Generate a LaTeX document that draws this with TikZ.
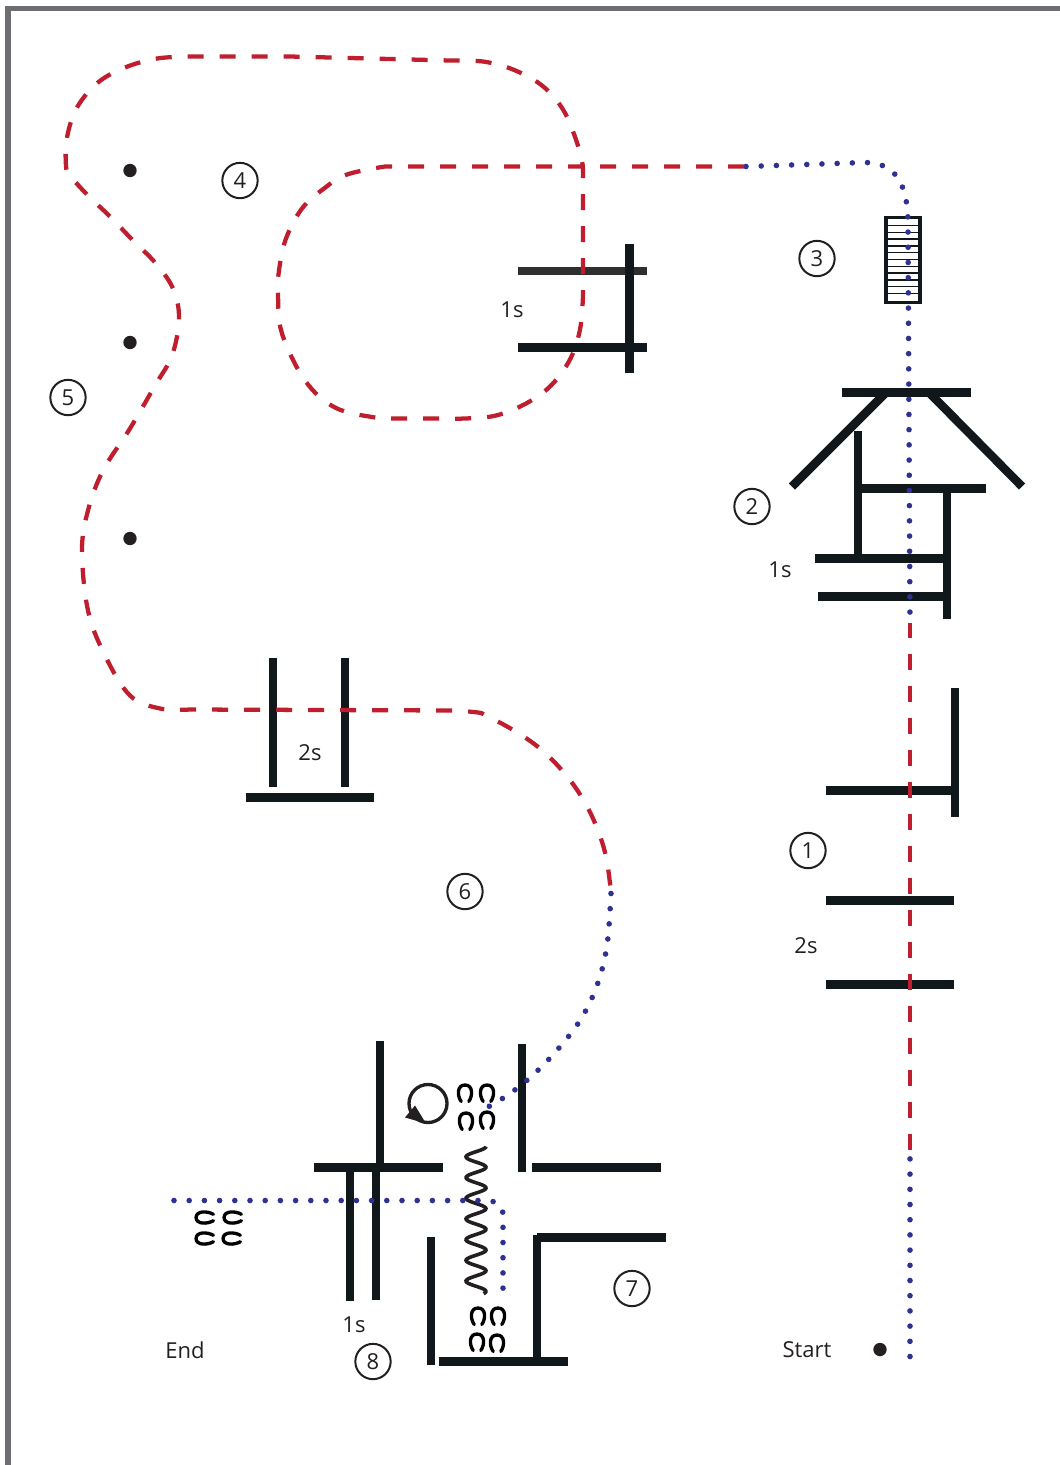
\documentclass[tikz,border=0pt]{standalone}
\usepackage{fontspec}
\setmainfont{Open Sans}
\definecolor{ink}{HTML}{11181C}
\definecolor{txt}{HTML}{231F20}
\definecolor{rd}{HTML}{BE1E2D}
\definecolor{bl}{HTML}{2E3192}
\definecolor{fr}{HTML}{6D6E71}
\definecolor{greybar}{HTML}{2F2F2F}
\tikzset{
  bar/.style={line width=6.4pt,draw=ink},
  reddash/.style={draw=rd,line width=3.2pt,dash pattern=on 12pt off 12pt},
  bluedot/.style={draw=bl,line width=4.2pt,line cap=round,dash pattern=on 0pt off 11.4pt},
  num/.style={circle,draw=txt,line width=1.5pt,minimum size=26.5pt,inner sep=0pt,font=\fontsize{16.5}{18}\selectfont,text=txt},
  lab/.style={inner sep=0pt,font=\fontsize{16.5}{18}\selectfont,text=txt},
  blob/.style={circle,fill=txt,minimum size=10pt,inner sep=0pt},
  shoe/.style={draw=black,line width=2.5pt,line cap=round}
}
\newcommand{\shoeat}[3][]{\draw[shoe,shift={(#2,#3)},#1] (-3.8,8) .. controls (-8,2) and (-8,-8.5) .. (0,-8.5) .. controls (8,-8.5) and (8,2) .. (3.8,8);}
\begin{document}
\begin{tikzpicture}[x=0.75pt,y=-0.75pt]
\useasboundingbox (0,-0.5) rectangle (1060,1464.5);
% frame
\draw[fr,line width=3.8pt] (8,1465) -- (8,8) -- (1060,8);
% jump 1
\draw[bar] (826,790) -- (955,790);
\draw[bar] (955,687) -- (955,816);
\draw[bar] (826,900) -- (954,900);
\draw[bar] (826,984) -- (954,984);
% jump 2
\draw[bar] (842,392) -- (971,392);
\draw[bar] (885,393) -- (792,486);
\draw[bar] (930,393) -- (1022,486);
\draw[bar] (858,430) -- (858,558);
\draw[bar] (858,488) -- (986,488);
\draw[bar] (947,490) -- (947,618);
\draw[bar] (815,558) -- (945,558);
\draw[bar] (818,596) -- (947,596);
% jump near 4
\draw[bar,draw=greybar] (518,270.5) -- (647,270.5);
\draw[bar] (518,347) -- (647,347);
\draw[bar] (629.5,243) -- (629.5,372);
% 2s jump
\draw[bar] (273,657) -- (273,786);
\draw[bar] (345,657) -- (345,786);
\draw[bar] (246,797) -- (374,797);
% bottom left jump
\draw[bar] (380,1040) -- (380,1168);
\draw[bar] (314,1167) -- (443,1167);
\draw[bar] (350,1170) -- (350,1300);
\draw[bar] (376,1170) -- (376,1299);
% bottom right jump
\draw[bar] (522,1043) -- (522,1171);
\draw[bar] (532,1167) -- (661,1167);
\draw[bar] (537,1237) -- (666,1237);
\draw[bar] (537,1234) -- (537,1362);
\draw[bar] (431,1236) -- (431,1364);
\draw[bar] (439,1361) -- (568,1361);
% tunnel
\draw[draw=ink,line width=2.6pt] (886,217) rectangle (920,302);
\foreach \k in {0,...,10}{\draw[draw=ink,line width=1pt] (886,225+6.8*\k) -- (920,225+6.8*\k);}
% spring
\draw[draw=txt,line width=2.7pt,smooth] plot[domain=0:2560,samples=160] ({476+10*cos(\x)},{1146+\x/360*20.7});
% horseshoes
\shoeat{465}{1093}\shoeat{487}{1093}\shoeat{466}{1121}\shoeat{487}{1120}
\shoeat{478}{1316}\shoeat{498}{1316}\shoeat{477}{1342}\shoeat{497}{1343}
\shoeat[rotate=90,xscale=0.85,yscale=1.05]{205}{1217}\shoeat[rotate=90,xscale=0.85,yscale=1.05]{233}{1217}
\shoeat[rotate=90,xscale=0.85,yscale=1.05]{205}{1238}\shoeat[rotate=90,xscale=0.85,yscale=1.05]{232}{1238}
% spin
\draw[draw=txt,line width=2.5pt] (428,1103) circle[radius=19];
\fill[txt] (405,1117) -- (415,1105) -- (426,1123) -- cycle;
% dots
\node[blob] (d1) at (130,170) {};
\node[blob] (d2) at (130,342) {};
\node[blob] (d3) at (130,538) {};
\node[blob] (d4) at (880,1349) {};
% course
\coordinate (startpt) at (910,1356);
\coordinate (endpt) at (174,1200);
\draw[bluedot] (startpt) -- (910,1152);
\draw[reddash] (910,1149) -- (910,622);
\draw[bluedot] (746,166) -- (865,162) .. controls (900,162) and (908,190) .. (908,225) -- (910,622);
\draw[reddash] (744,166) -- (385,166) -- plot[smooth,tension=0.6] coordinates {(385,166)(347,174)(324,188)(302,208)(286,238)(279,270)(278,295)(282,333)(305,380)(335,407)(375,417)(395,418)(430,418)(465,418)(496,415)(526,403)(551,385)(570,359)(580,329)(583,295)} -- (583,166) -- plot[smooth,tension=0.6] coordinates {(583,166)(577,142)(563,109)(542,85)(513,69)(483,61)(450,60)} -- (290,56) -- plot[smooth,tension=0.6] coordinates {(190,56)(157,58)(125,67)(98,82)(77,107)(67,137)(66,165)(70,175)(88,195)(110,216)(133,240)(155,262)(173,288)(179,318)(172,355)(155,385)(130,428)(103,470)(88,510)(82,550)(88,610)(105,655)(130,695)(160,708)(190,709)} -- (455,710) -- plot[smooth,tension=0.6] coordinates {(455,710)(478,712)(486,715)(514,730)(540,748)(563,771)(582,797)(596,825)(606,856)(611,892)};
\draw[bluedot] plot[smooth,tension=0.6] coordinates {(611,893)(607,945)(597,985)(580,1020)(555,1052)(529,1078)(504,1097)(478,1112)};
\draw[bluedot] (endpt) -- (485,1200) .. controls (497,1200) and (503,1205) .. (503,1215) -- (503,1290);
% numbers
\node[num] (n1) at (808,850) {1};
\node[num] (n2) at (752,506) {2};
\node[num] (n3) at (817,258) {3};
\node[num] (n4) at (240,180) {4};
\node[num] (n5) at (68,397) {5};
\node[num] (n6) at (465,891) {6};
\node[num] (n7) at (632,1288) {7};
\node[num] (n8) at (373,1361) {8};
% labels
\node[lab] (l1) at (512,309.5) {1s};
\node[lab] (l2) at (780,569.5) {1s};
\node[lab] (l3) at (310,752.5) {2s};
\node[lab] (l4) at (806,945.5) {2s};
\node[lab] (l5) at (354,1324.5) {1s};
\node[lab] (l6) at (185,1349.5) {End};
\node[lab] (l7) at (807,1349.5) {Start};
\end{tikzpicture}
\end{document}
